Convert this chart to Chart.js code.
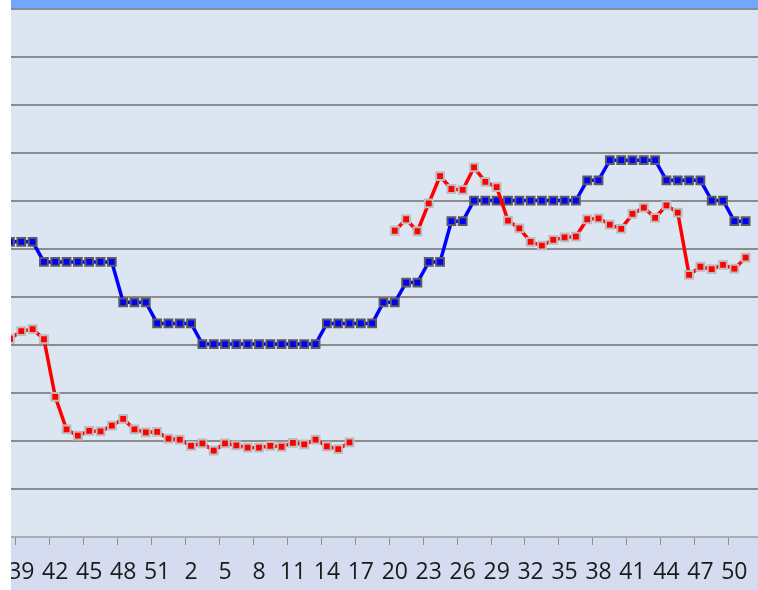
<!DOCTYPE html>
<html>
<head>
<meta charset="utf-8">
<script src="https://cdn.jsdelivr.net/npm/chart.js@4"></script>
<style>
  html, body { margin: 0; padding: 0; background: #ffffff; }
  body { width: 758px; height: 590px; overflow: hidden; position: relative; }
  #wrap { position: absolute; left: 11px; top: 0; width: 747px; height: 590px; }
</style>
</head>
<body>
<div id="wrap"><canvas id="chart" width="747" height="590"></canvas></div>
<script>
// week numbers along the x axis (the view is cropped: week 38 on the left edge, week 52 on the right)
const WEEKS = [
  "38", "39", "40", "41", "42", "43", "44", "45", "46", "47", "48", "49", "50", "51", "52",
  "1", "2", "3", "4", "5", "6", "7", "8", "9", "10", "11", "12", "13", "14", "15", "16",
  "17", "18", "19", "20", "21", "22", "23", "24", "25", "26", "27", "28", "29", "30", "31",
  "32", "33", "34", "35", "36", "37", "38", "39", "40", "41", "42", "43", "44", "45", "46",
  "47", "48", "49", "50", "51", "52",
];

// stepped series (blue squares)
const BLUE_SERIES = [
  61.5, 61.5, 61.5,
  57.3, 57.3, 57.3, 57.3, 57.3, 57.3, 57.3,
  48.9, 48.9, 48.9,
  44.5, 44.5, 44.5, 44.5,
  40.2, 40.2, 40.2, 40.2, 40.2, 40.2, 40.2, 40.2, 40.2, 40.2, 40.2,
  44.5, 44.5, 44.5, 44.5, 44.5,
  48.9, 48.9,
  53.0, 53.0,
  57.3, 57.3,
  65.8, 65.8,
  70.1, 70.1, 70.1, 70.1, 70.1, 70.1, 70.1, 70.1, 70.1, 70.1,
  74.3, 74.3,
  78.5, 78.5, 78.5, 78.5, 78.5,
  74.3, 74.3, 74.3, 74.3,
  70.1, 70.1,
  65.8, 65.8,
  null,
];

// noisy series (red squares), with a gap around weeks 17-19
const RED_SERIES = [
  41.3, 42.9, 43.3, 41.2, 29.2, 22.4, 21.1, 22.1, 22.0, 23.2,
  24.6, 22.4, 21.8, 21.9, 20.5, 20.3, 19.0, 19.5, 18.0, 19.5,
  19.1, 18.6, 18.6, 19.0, 18.8, 19.6, 19.3, 20.3, 18.9, 18.3,
  19.7, null, null, null, 63.8, 66.2, 63.7, 69.5, 75.2, 72.5,
  72.3, 77.0, 74.0, 72.9, 65.9, 64.3, 61.5, 60.7, 61.9, 62.4,
  62.6, 66.2, 66.4, 65.1, 64.2, 67.3, 68.6, 66.5, 69.1, 67.6,
  54.6, 56.3, 55.8, 56.7, 55.9, 58.2, null,
];

const Y_TICKS = { min: 0, max: 110, step: 10 };

const COLORS = {
  plotBg: "#dce6f2",
  axisBg: "#d5dcf0",
  topBar: "#6fa8fd",
  grid: "#8c8c8c",
  axisLine: "#a9acb4",
  tick: "#8f8f8f",
  label: "#1a1a1a",
  blue: "#0000ff",
  blueEdge: "#5c5c5c",
  red: "#ff0000",
  redEdge: "#bcbcbc",
};

// visible window in category units (the source picture is a crop)
const X_MIN = 0.09;
const X_MAX = 66.09;

function toPoints(values) {
  return values.map((v, i) => ({ x: i, y: v }));
}

// a label every third week, with the tick mark half a category to its left
function buildXTicks() {
  const ticks = [];
  for (let i = 1; i < WEEKS.length; i += 3) {
    ticks.push({ value: i - 0.5 }, { value: i });
  }
  return ticks;
}

const backgroundPlugin = {
  id: "backgrounds",
  beforeDraw(chart) {
    const { ctx, chartArea: a, width, height } = chart;
    ctx.save();
    ctx.fillStyle = COLORS.axisBg;
    ctx.fillRect(0, 0, width, height);
    ctx.fillStyle = COLORS.plotBg;
    ctx.fillRect(a.left, a.top, a.right - a.left, a.bottom - a.top);
    ctx.fillStyle = COLORS.topBar;
    ctx.fillRect(0, 0, width, 8);
    ctx.restore();
  },
};

function seriesStyle(color, edge) {
  return {
    borderColor: color,
    borderWidth: 3.5,
    pointStyle: "rect",
    pointRadius: 5.5,
    pointHoverRadius: 5.5,
    pointBackgroundColor: color,
    pointBorderColor: edge,
    pointBorderWidth: 2,
    tension: 0,
    spanGaps: false,
    fill: false,
  };
}

new Chart(document.getElementById("chart"), {
  type: "line",
  data: {
    datasets: [
      { label: "red", data: toPoints(RED_SERIES), ...seriesStyle(COLORS.red, COLORS.redEdge) },
      { label: "blue", data: toPoints(BLUE_SERIES), ...seriesStyle(COLORS.blue, COLORS.blueEdge) },
    ],
  },
  options: {
    responsive: false,
    animation: false,
    devicePixelRatio: 1,
    layout: { autoPadding: false, padding: { top: 9, left: 0, right: 0, bottom: 0 } },
    plugins: { legend: { display: false }, tooltip: { enabled: false } },
    scales: {
      x: {
        type: "linear",
        min: X_MIN,
        max: X_MAX,
        afterBuildTicks: (axis) => { axis.ticks = buildXTicks(); },
        afterFit: (axis) => {
          axis.height = 53;
          // labels are allowed to run off the cropped edges
          axis.paddingLeft = 0;
          axis.paddingRight = 0;
        },
        ticks: {
          autoSkip: false,
          maxRotation: 0,
          padding: 14,
          color: COLORS.label,
          font: { family: '"Open Sans", "Liberation Sans", sans-serif', size: 23 },
          callback: (v) => (Number.isInteger(v) ? WEEKS[v] : ""),
        },
        grid: {
          drawOnChartArea: false,
          drawTicks: true,
          tickLength: 8,
          lineWidth: 1,
          color: (ctx) => (ctx.tick && Number.isInteger(ctx.tick.value) ? "rgba(0,0,0,0)" : COLORS.tick),
        },
        border: { display: true, color: COLORS.axisLine, width: 2 },
      },
      y: {
        min: Y_TICKS.min,
        max: Y_TICKS.max,
        afterFit: (axis) => { axis.width = 0; },
        ticks: { display: false, stepSize: Y_TICKS.step },
        grid: {
          drawTicks: false,
          lineWidth: 2,
          color: (ctx) => (ctx.tick && ctx.tick.value === Y_TICKS.min ? "rgba(0,0,0,0)" : COLORS.grid),
        },
        border: { display: false },
      },
    },
  },
  plugins: [backgroundPlugin],
});
</script>
</body>
</html>
